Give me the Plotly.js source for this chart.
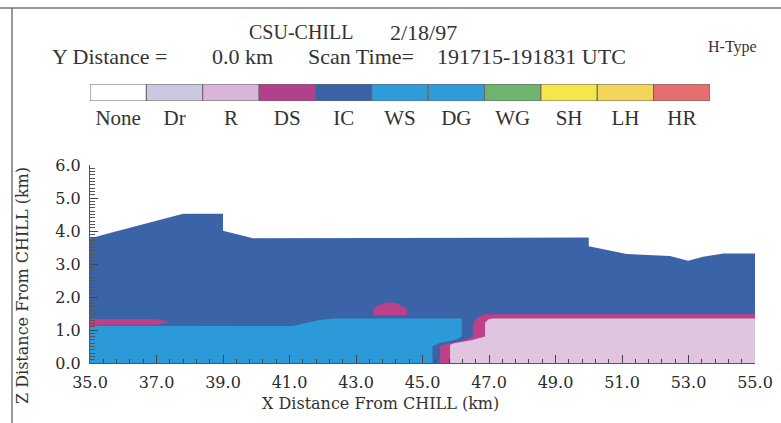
<!DOCTYPE html>
<html>
<head>
<meta charset="utf-8">
<script src="https://cdn.plot.ly/plotly-3.0.1.min.js"></script>
<style>html,body{margin:0;padding:0;background:#fff;}#chart{width:781px;height:423px;}</style>
</head>
<body>
<div id="chart"></div>
<script>
// ---- Hydrometeor type legend ----
const hTypes = ['None','Dr','R','DS','IC','WS','DG','WG','SH','LH','HR'];
const hColors = ['#ffffff','#cbc9df','#d9b6d8','#b2408c','#3a62a6','#2f9bd9','#2f9bd9','#6db56f','#f6e64e','#f4d35a','#e66e6e'];
const hUnit = [1,1,1,1,1,1,1,1,1,1,1];

// ---- Region outlines (x km, z km) ----
// IC (ice crystals) envelope
const icX = [35, 35, 35.6, 36.5, 37.0, 37.8, 39.0, 39.0, 39.9, 50.0, 50.0, 50.64, 51.14, 52.44, 52.99, 53.44, 54.05, 55, 55];
const icZ = [0, 3.77, 3.94, 4.18, 4.33, 4.52, 4.52, 4.01, 3.78, 3.80, 3.54, 3.40, 3.30, 3.24, 3.10, 3.22, 3.32, 3.32, 0];
// WS (wet snow) layer
const wsX = [35, 35, 41.1, 41.9, 42.3, 46.18, 46.18, 46.05, 45.5, 45.3, 45.3];
const wsZ = [0, 1.13, 1.12, 1.30, 1.35, 1.35, 0.80, 0.72, 0.60, 0.50, 0];
// DS (dry snow) thin layer, left
const dsLeftX = [35, 37.0, 37.4, 37.0, 35];
const dsLeftZ = [1.15, 1.16, 1.24, 1.33, 1.33];
// DS blob near 44 km
const dsBlobX = [43.52, 43.52, 43.7, 43.95, 44.2, 44.4, 44.55, 44.52];
const dsBlobZ = [1.45, 1.66, 1.76, 1.84, 1.82, 1.72, 1.60, 1.45];
// DS shell over rain, right
const dsRightX = [45.53, 45.53, 45.8, 46.3, 46.53, 46.53, 46.65, 46.85, 55, 55];
const dsRightZ = [0, 0.52, 0.60, 0.70, 0.80, 1.20, 1.38, 1.48, 1.48, 0];
// R (rain) region
const rX = [45.83, 45.83, 45.95, 46.5, 46.88, 46.88, 46.98, 47.1, 55, 55];
const rZ = [0, 0.55, 0.60, 0.70, 0.80, 1.22, 1.32, 1.35, 1.35, 0];

const cIC = '#3a63a8', cWS = '#2c9ad8', cDS = '#bd4089', cR = '#dfc5df';

function poly(x, y, color) {
  return {type:'scatter', mode:'lines', x:x, y:y, fill:'toself', fillcolor:color,
          line:{width:0, color:color}, hoverinfo:'skip', showlegend:false, xaxis:'x', yaxis:'y'};
}

const traces = [
  poly(icX, icZ, cIC),
  poly(wsX, wsZ, cWS),
  poly(dsLeftX, dsLeftZ, cDS),
  poly(dsBlobX, dsBlobZ, cDS),
  poly(dsRightX, dsRightZ, cDS),
  poly(rX, rZ, cR),
  {type:'bar', x:hTypes, y:hUnit, marker:{color:hColors, line:{color:'#666', width:1}},
   xaxis:'x2', yaxis:'y2', hoverinfo:'skip', showlegend:false, width:1}
];

const W = 781, H = 423;
const px = v => v / W;
const py = v => 1 - v / H;
const serif = 'Liberation Serif, Times New Roman, serif';
const dserif = 'DejaVu Serif, serif';
const tickFont = {family:dserif, size:16, color:'#2a2a2a'};

function txt(text, x, y, size, anchor, extra) {
  return Object.assign({text:text, x:px(x), y:py(y), xref:'paper', yref:'paper',
    xanchor:anchor || 'left', yanchor:'middle', showarrow:false,
    font:{family:serif, size:size, color:'#333'}}, extra || {});
}

const layout = {
  width:W, height:H,
  margin:{l:0, r:0, t:0, b:0},
  paper_bgcolor:'#fff', plot_bgcolor:'#fff',
  showlegend:false,
  bargap:0,
  title:{text:'CSU-CHILL', x:px(249), xanchor:'left', xref:'paper', y:py(32), yref:'container', yanchor:'middle',
         font:{family:serif, size:20, color:'#333'}},
  xaxis:{domain:[px(90), px(755)], range:[35,55], anchor:'y',
         tickmode:'linear', tick0:35, dtick:2, tickformat:'.1f',
         ticks:'inside', ticklen:8, tickcolor:'#444', tickwidth:1,
         minor:{dtick:0.4, tick0:35, ticks:'inside', ticklen:4, tickcolor:'#444', showgrid:false},
         showline:true, linecolor:'#555', linewidth:1, showgrid:false, zeroline:false,
         tickfont:tickFont, ticklabelstandoff:5, fixedrange:true},
  yaxis:{domain:[py(363), py(165)], range:[0,6], anchor:'x',
         tickmode:'linear', tick0:0, dtick:1, tickformat:'.1f',
         ticks:'inside', ticklen:8, tickcolor:'#444', tickwidth:1,
         minor:{dtick:0.1, tick0:0, ticks:'inside', ticklen:5, tickcolor:'#555', showgrid:false},
         showline:true, linecolor:'#555', linewidth:1, showgrid:false, zeroline:false,
         tickfont:tickFont, ticklabelstandoff:5, fixedrange:true},
  xaxis2:{domain:[px(90), px(710)], anchor:'y2', type:'category', range:[-0.5, 10.5],
          showline:false, showgrid:false, zeroline:false, ticks:'',
          tickfont:{family:serif, size:21, color:'#333'}, ticklabelstandoff:2, fixedrange:true},
  yaxis2:{domain:[py(101), py(84)], anchor:'x2', range:[0,1], visible:false, fixedrange:true},
  annotations:[
    txt('2/18/97', 388, 32, 22),
    txt('Y Distance =', 50, 57, 22),
    txt('0.0 km', 210, 57, 22),
    txt('Scan Time=', 306, 57, 22),
    txt('191715-191831 UTC', 435, 57, 22),
    txt('H-Type', 759, 47, 16, 'right'),
    txt('X Distance From CHILL (km)', 380, 403, 16, 'center', {font:{family:dserif, size:16, color:'#333'}}),
    txt('Z Distance From CHILL (km)', 22, 286, 16, 'center', {textangle:-90, font:{family:dserif, size:16, color:'#333'}})
  ],
  shapes:[
    {type:'line', xref:'paper', yref:'paper', x0:0, x1:1, y0:py(8), y1:py(8), line:{color:'#777', width:1.5}},
    {type:'line', xref:'paper', yref:'paper', x0:px(12), x1:px(12), y0:py(8), y1:0, line:{color:'#777', width:1.5}}
  ]
};

Plotly.newPlot('chart', traces, layout, {displayModeBar:false, staticPlot:true});
</script>
</body>
</html>
